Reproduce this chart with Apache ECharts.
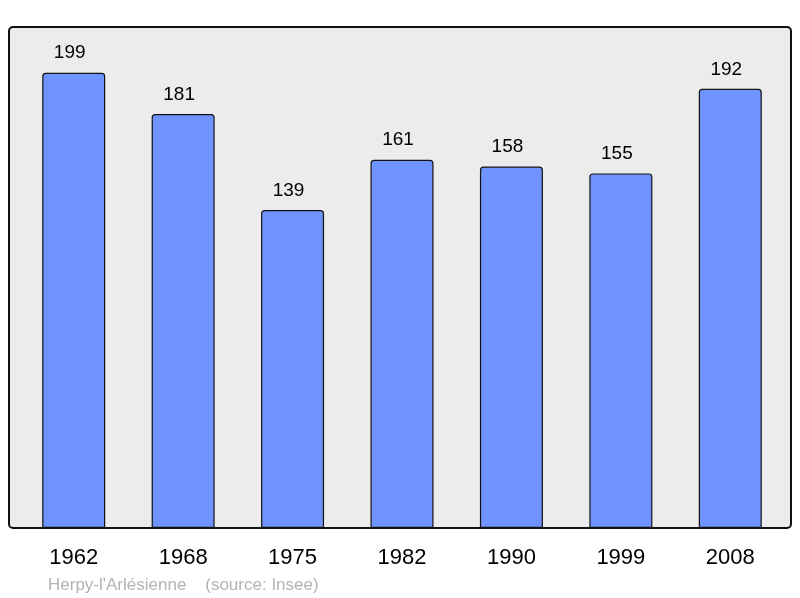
<!DOCTYPE html>
<html><head><meta charset="utf-8">
<script src="https://cdn.jsdelivr.net/npm/echarts@6/dist/echarts.min.js"></script>
<style>html,body{margin:0;padding:0;background:#fff}#c{width:800px;height:598px}</style>
</head><body><div id="c"></div>
<script>
const years = ['1962','1968','1975','1982','1990','1999','2008'];
const population = [199,181,139,161,158,155,192];
const sourceText = "Herpy-l'Arlésienne    (source: Insee)";

const chart = echarts.init(document.getElementById('c'), null, {renderer:'canvas'});
chart.setOption({
  animation:false,
  backgroundColor:'#ffffff',
  graphic:[
    {type:'rect', z:-10, shape:{x:9,y:27,width:782,height:501,r:4},
     style:{fill:'#ececec',stroke:'#111',lineWidth:2}},
    {type:'text', left:48, top:577, style:{text:sourceText, fill:'#b3b3b3', font:'17px "Liberation Sans", Arial, sans-serif'}}
  ],
  grid:{left:19, right:15, top:27, bottom:70},
  xAxis:{type:'category', data:years,
    axisLine:{show:false}, axisTick:{show:false},
    axisLabel:{color:'#000', fontSize:22, margin:19, fontFamily:'Liberation Sans, Arial, sans-serif'}},
  yAxis:{type:'value', min:0, max:219, show:false, splitLine:{show:false}},
  series:[{type:'bar', data:population, barWidth:63,
    itemStyle:{color:'#7094ff', borderColor:'#111', borderWidth:1.2, borderRadius:[3,3,0,0]},
    label:{show:true, position:'top', distance:10, offset:[-4,0], color:'#000', fontSize:19,
      fontFamily:'Liberation Sans, Arial, sans-serif'}}]
});
</script></body></html>
